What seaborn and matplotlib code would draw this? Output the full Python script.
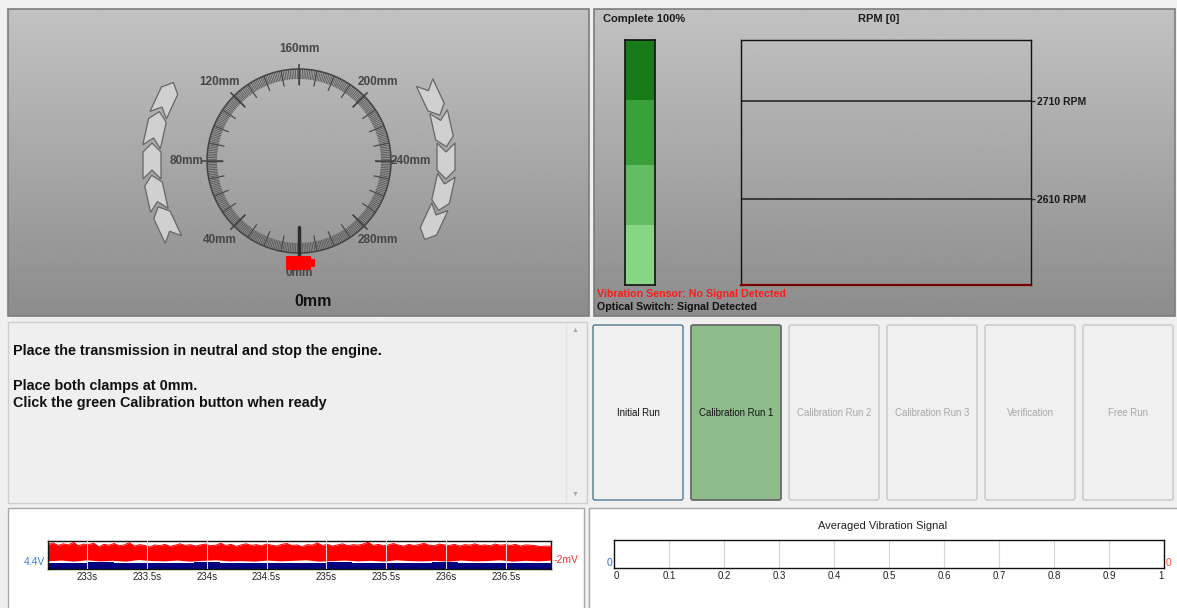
import numpy as np
import matplotlib
matplotlib.use("Agg")
import matplotlib.pyplot as plt
from matplotlib.patches import Rectangle, Polygon, FancyBboxPatch
from matplotlib.collections import LineCollection
import seaborn as sns

# %% data
gauge_max = 320
gauge_values = [0, 40, 80, 120, 160, 200, 240, 280]
gauge_labels = ["0mm", "40mm", "80mm", "120mm", "160mm", "200mm", "240mm", "280mm"]
needle_value = 0
position_text = "0mm"

progress_title = "Complete 100%"
progress_segments = [24.5, 24.5, 26.5, 24.5]          # bottom -> top
progress_colors = ["#86d686", "#64bc64", "#3aa03a", "#187a18"]

rpm_title = "RPM [0]"
rpm_levels = [2610, 2710]
rpm_labels = ["2610 RPM", "2710 RPM"]
rpm_limits = (2522, 2772)

status_lines = ["Vibration Sensor: No Signal Detected", "Optical Switch: Signal Detected"]
status_colors = ["#ff1a1a", "#111111"]

instructions = ["Place the transmission in neutral and stop the engine.",
                "",
                "Place both clamps at 0mm.",
                "Click the green Calibration button when ready"]

buttons = ["Initial Run", "Calibration Run 1", "Calibration Run 2",
           "Calibration Run 3", "Verification", "Free Run"]
button_state = ["normal", "active", "disabled", "disabled", "disabled", "disabled"]

sig_ticks = [233, 233.5, 234, 234.5, 235, 235.5, 236, 236.5]
sig_labels = ["233s", "233.5s", "234s", "234.5s", "235s", "235.5s", "236s", "236.5s"]
sig_range = (232.675, 236.876)
red_top = [0.88, 0.93, 0.84, 0.90, 0.86, 0.95, 0.83, 0.89, 0.87, 0.92,
           0.80, 0.88, 0.85, 0.91, 0.83, 0.86, 0.94, 0.82, 0.87, 0.84,
           0.79, 0.86, 0.83, 0.88, 0.81, 0.85, 0.90, 0.84, 0.87, 0.82,
           0.86, 0.89, 0.83, 0.85, 0.92, 0.84, 0.88, 0.81, 0.86, 0.90,
           0.84, 0.87, 0.83, 0.89, 0.85, 0.82, 0.88, 0.91, 0.84, 0.86,
           0.80, 0.87, 0.85, 0.93, 0.84, 0.88, 0.82, 0.86, 0.90, 0.83,
           0.87, 0.85, 0.89, 0.96, 0.84, 0.88, 0.83, 0.86, 0.91, 0.85,
           0.82, 0.88, 0.84, 0.87, 0.92, 0.85, 0.83, 0.89, 0.86, 0.84,
           0.88, 0.82, 0.87, 0.85, 0.90, 0.84, 0.86, 0.83, 0.89, 0.85,
           0.87, 0.84, 0.88, 0.82, 0.86, 0.85, 0.83, 0.80, 0.82, 0.81]
red_low = [0.29, 0.32, 0.28, 0.33, 0.29, 0.31, 0.28, 0.34, 0.30, 0.29,
           0.32, 0.28, 0.31, 0.33, 0.29, 0.30, 0.28, 0.32, 0.29, 0.31,
           0.33, 0.28, 0.30, 0.32, 0.29, 0.31, 0.28, 0.33, 0.30, 0.29,
           0.31, 0.28, 0.32, 0.29, 0.30, 0.33, 0.28, 0.31, 0.29, 0.32]
blue_top = [0.23, 0.22, 0.24, 0.21, 0.23, 0.22, 0.24, 0.23, 0.21, 0.23,
            0.22, 0.24, 0.23, 0.21, 0.23, 0.24, 0.22, 0.23, 0.21, 0.23]
sig_left_label, sig_right_label = "4.4V", "-2mV"

avg_title = "Averaged Vibration Signal"
avg_ticks = [0, 0.1, 0.2, 0.3, 0.4, 0.5, 0.6, 0.7, 0.8, 0.9, 1]
avg_labels = ["0", "0.1", "0.2", "0.3", "0.4", "0.5", "0.6", "0.7", "0.8", "0.9", "1"]

# %% setup
sns.set_theme(style="white")
plt.rcParams["font.family"] = ["Liberation Sans", "DejaVu Sans"]

W, H = 1177, 608
fig = plt.figure(figsize=(W / 100, H / 100), dpi=100, facecolor="#f0f0f0")


def px_axes(x0, y0, x1, y1):
    return fig.add_axes([x0 / W, 1 - y1 / H, (x1 - x0) / W, (y1 - y0) / H])


# full-figure canvas in pixel units (y down)
cv = fig.add_axes([0, 0, 1, 1])
cv.set_facecolor("#f0f0f0")
grad = np.linspace(0.76, 0.55, 200)[:, None]


def panel(x0, y0, x1, y1):
    cv.imshow(grad, cmap="gray", vmin=0, vmax=1, extent=(x0, x1, y1, y0),
              aspect="auto", zorder=1)
    cv.add_patch(Rectangle((x0, y0), x1 - x0, y1 - y0, fill=False,
                           ec="#7c7c7c", lw=1.2, zorder=2))


panel(8, 9, 589, 316)
panel(594, 9, 1175, 316)

# %% gauge
cx, cy = 299, 161


def pol(v, r):
    th = np.deg2rad(-90 - v * 360 / gauge_max)
    return cx + r * np.cos(th), cy - r * np.sin(th)


segs = [[pol(v, 82), pol(v, 92)] for v in range(gauge_max)]
cv.add_collection(LineCollection(segs, colors="#5c5c5c", lw=0.75, zorder=3))
segs = [[pol(v, 76), pol(v, 92)] for v in range(0, gauge_max, 10)]
cv.add_collection(LineCollection(segs, colors="#4a4a4a", lw=0.9, zorder=3))
segs = [[pol(v, 76), pol(v, 97)] for v in gauge_values]
cv.add_collection(LineCollection(segs, colors="#404040", lw=1.1, zorder=3))
ang = np.linspace(0, 2 * np.pi, 400)
cv.plot(cx + 92 * np.cos(ang), cy + 92 * np.sin(ang), color="#444444", lw=1.1, zorder=3)

for v, lab in zip(gauge_values, gauge_labels):
    x, y = pol(v, 112)
    cv.text(x, y, lab, ha="center", va="center", fontsize=8.5, weight="bold",
            color="#454545", zorder=4)


# chevrons showing the rotation direction
def chevron(theta, r=147, L=36, Wd=18, p=9):
    th = np.deg2rad(theta)
    c = np.array([cx + r * np.cos(th), cy - r * np.sin(th)])
    t = np.array([np.sin(th), np.cos(th)])
    n = np.array([np.cos(th), -np.sin(th)])
    shape = [(-L / 2, -Wd / 2), (L / 2 - p, -Wd / 2), (L / 2, 0),
             (L / 2 - p, Wd / 2), (-L / 2, Wd / 2), (-L / 2 + p, 0)]
    pts = [c + u * t + w * n for u, w in shape]
    cv.add_patch(Polygon(pts, closed=True, fc="#d0d0d0", ec="#666666", lw=0.9,
                         joinstyle="miter", zorder=3))


for th in [205, 192.5, 180, 167.5, 155]:
    chevron(th)
for th in [25, 12.5, 0, -12.5, -25]:
    chevron(th)

# needle + marker
x0n, y0n = pol(needle_value, 66)
x1n, y1n = pol(needle_value, 96)
cv.plot([x0n, x1n], [y0n, y1n], color="#2e2e2e", lw=2.5, zorder=5)
mx, my = pol(needle_value, 102)
cv.add_patch(Rectangle((mx - 13, my - 7), 25, 14, fc="#ff0000", ec="none", zorder=6))
cv.add_patch(Rectangle((mx + 11, my - 4), 5, 8, fc="#ff0000", ec="none", zorder=6))
cv.text(313, 302, position_text, ha="center", va="center", fontsize=11.5,
        weight="bold", color="#111111", zorder=4)

# %% progress + rpm
cv.text(603, 19, progress_title, ha="left", va="center", fontsize=8,
        weight="bold", color="#1a1a1a", zorder=4)
cv.text(879, 19, rpm_title, ha="center", va="center", fontsize=8,
        weight="bold", color="#1a1a1a", zorder=4)
for i, (s, c) in enumerate(zip(status_lines, status_colors)):
    cv.text(597, 294 + i * 13, s, ha="left", va="center", fontsize=7.7,
            weight="bold", color=c, zorder=4)

axp = px_axes(625, 40, 655, 285)
bottoms = np.concatenate([[0], np.cumsum(progress_segments)[:-1]])
axp.bar([0] * len(progress_segments), progress_segments, bottom=bottoms,
        width=1, color=progress_colors, edgecolor="none")
axp.set_xlim(-0.5, 0.5)
axp.set_ylim(0, 100)
axp.set_xticks([])
axp.set_yticks([])
for sp in axp.spines.values():
    sp.set_color("#111111")
    sp.set_linewidth(1.2)

axr = px_axes(741, 40, 1031, 285)
axr.set_facecolor("none")
for lvl in rpm_levels:
    sns.lineplot(x=[0, 1], y=[lvl, lvl], ax=axr, color="#2a2a2a", lw=1.2)
axr.set_xlim(0, 1)
axr.set_ylim(*rpm_limits)
axr.set_xticks([])
axr.yaxis.tick_right()
axr.set_yticks(rpm_levels)
axr.set_yticklabels(rpm_labels, fontsize=7.5, weight="bold", color="#1a1a1a")
axr.tick_params(axis="y", right=True, direction="out", length=3, width=1,
                color="#2a2a2a", pad=1)
for sp in axr.spines.values():
    sp.set_color("#111111")
    sp.set_linewidth(1)
axr.spines["bottom"].set_color("#7a0000")
axr.spines["bottom"].set_linewidth(1.6)

# %% instruction box
cv.add_patch(Rectangle((8, 322), 579, 181, fc="#efefef", ec="#cfcfcf", lw=1, zorder=2))
cv.plot([566, 566], [323, 502], color="#e3e3e3", lw=1, zorder=3)
cv.text(575, 331, "\u25b2", ha="center", va="center", fontsize=5, color="#a8a8a8", zorder=4)
cv.text(575, 494, "\u25bc", ha="center", va="center", fontsize=5, color="#a8a8a8", zorder=4)
for i, line in enumerate(instructions):
    cv.text(13, 351 + i * 17.5, line, ha="left", va="center", fontsize=10.4,
            weight="bold", color="#111111", zorder=4)

# %% buttons
for i, (lab, st) in enumerate(zip(buttons, button_state)):
    bx = 593 + i * 98
    if st == "active":
        fc, ec, tc, lw = "#8fbc8b", "#6a6a6a", "#111111", 1.3
    elif st == "normal":
        fc, ec, tc, lw = "#f0f0f0", "#4f7896", "#111111", 1.0
    else:
        fc, ec, tc, lw = "#f0f0f0", "#c6c6c6", "#a8a8a8", 1.0
    cv.add_patch(FancyBboxPatch((bx, 325), 90, 175, boxstyle="round,pad=0,rounding_size=2",
                                fc=fc, ec=ec, lw=lw, zorder=3))
    cv.text(bx + 45, 413, lab, ha="center", va="center", fontsize=6.9,
            color=tc, zorder=4)

# %% bottom panels
cv.add_patch(Rectangle((8, 508), 576, 104, fc="white", ec="#a8a8a8", lw=1, zorder=2))
cv.add_patch(Rectangle((589, 508), 592, 104, fc="white", ec="#a8a8a8", lw=1, zorder=2))

axs = px_axes(48, 541, 551, 569)
axs.set_facecolor("white")
t_red = np.linspace(*sig_range, len(red_top))
t_low = np.linspace(*sig_range, len(red_low))
t_blue = np.linspace(*sig_range, len(blue_top))
axs.fill_between(t_red, 0.5, red_top, color="#ff0000", lw=0)
axs.fill_between(t_low, red_low, 0.55, color="#ff0000", lw=0)
axs.fill_between(t_blue, 0.0, blue_top, step="mid", color="#00007f", lw=0)
sns.lineplot(x=t_red, y=red_top, ax=axs, color="#ff0000", lw=0.7)
axs.set_xlim(*sig_range)
axs.set_ylim(0, 1)
axs.set_xticks(sig_ticks)
axs.set_xticklabels(sig_labels, fontsize=7, color="#222222")
axs.set_yticks([])
axs.grid(axis="x", color="#d8d8d8", lw=0.8)
axs.set_axisbelow(False)
axs.tick_params(axis="x", length=0, pad=2)
for sp in axs.spines.values():
    sp.set_color("#111111")
    sp.set_linewidth(1)
cv.text(45, 562, sig_left_label, ha="right", va="center", fontsize=7.5,
        color="#3d7fd6", zorder=4)
cv.text(554, 560, sig_right_label, ha="left", va="center", fontsize=7.5,
        color="#ff3030", zorder=4)

axa = px_axes(614, 540, 1164, 568)
axa.set_facecolor("white")
axa.set_xlim(0, 1)
axa.set_ylim(0, 1)
axa.set_xticks(avg_ticks)
axa.set_xticklabels(avg_labels, fontsize=7, color="#222222")
tl = axa.get_xticklabels()
tl[0].set_ha("left")
tl[-1].set_ha("right")
axa.set_yticks([])
axa.grid(axis="x", color="#d4d4d4", lw=0.8)
axa.tick_params(axis="x", length=0, pad=2)
for sp in axa.spines.values():
    sp.set_color("#111111")
    sp.set_linewidth(1)
cv.text(883, 526, avg_title, ha="center", va="center", fontsize=8,
        color="#222222", zorder=4)
cv.text(612, 563, "0", ha="right", va="center", fontsize=7.5, color="#3d6fd6", zorder=4)
cv.text(1166, 563, "0", ha="left", va="center", fontsize=7.5, color="#ff4a2a", zorder=4)

cv.set_xlim(0, W)
cv.set_ylim(H, 0)
cv.axis("off")

fig.savefig("out.png", dpi=100, facecolor=fig.get_facecolor())
